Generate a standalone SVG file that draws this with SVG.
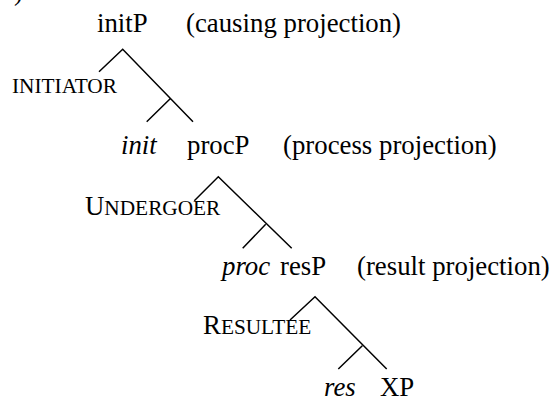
<svg xmlns="http://www.w3.org/2000/svg" width="554" height="400" viewBox="0 0 554 400">
<style>
text{font-family:"Liberation Serif","Times New Roman",serif;font-size:26.8px;fill:#000}
.it{font-style:italic}
.sc{font-size:21.3px}
.br{stroke:#000;stroke-width:1.5;fill:none;stroke-linecap:butt}
</style>
<rect width="554" height="400" fill="#fff"/>
<text x="14" y="0">)</text>
<g id="initP"><text x="97" y="32">initP</text><text x="186" y="32">(causing projection)</text></g>
<g id="initiator"><text class="sc" x="12" y="93">INITIATOR</text></g>
<g id="init"><text class="it" x="121" y="154">init</text></g>
<g id="procP"><text x="187" y="154">procP</text><text x="283" y="154">(process projection)</text></g>
<g id="undergoer"><text x="85" y="215">U<tspan class="sc">NDERGOER</tspan></text></g>
<g id="proc"><text class="it" x="222" y="275">proc</text></g>
<g id="resP"><text x="280" y="275">resP</text><text x="357" y="275">(result projection)</text></g>
<g id="resultee"><text x="203" y="334">R<tspan class="sc">ESULTEE</tspan></text></g>
<g id="res"><text class="it" x="324" y="396">res</text></g>
<g id="XP"><text x="380" y="396">XP</text></g>
<g id="connectors" class="br">
<path d="M99,71.7 L122.7,49.3 L193,121.7 M170.7,98.3 L146.7,121.7"/>
<path d="M194.3,200.7 L218.3,176.7 L291.7,248.3 M265.7,224.3 L242.7,248.3"/>
<path d="M290,320 L315,296.7 L386.7,369 M362.3,345.7 L338.3,369"/>
</g>
</svg>
